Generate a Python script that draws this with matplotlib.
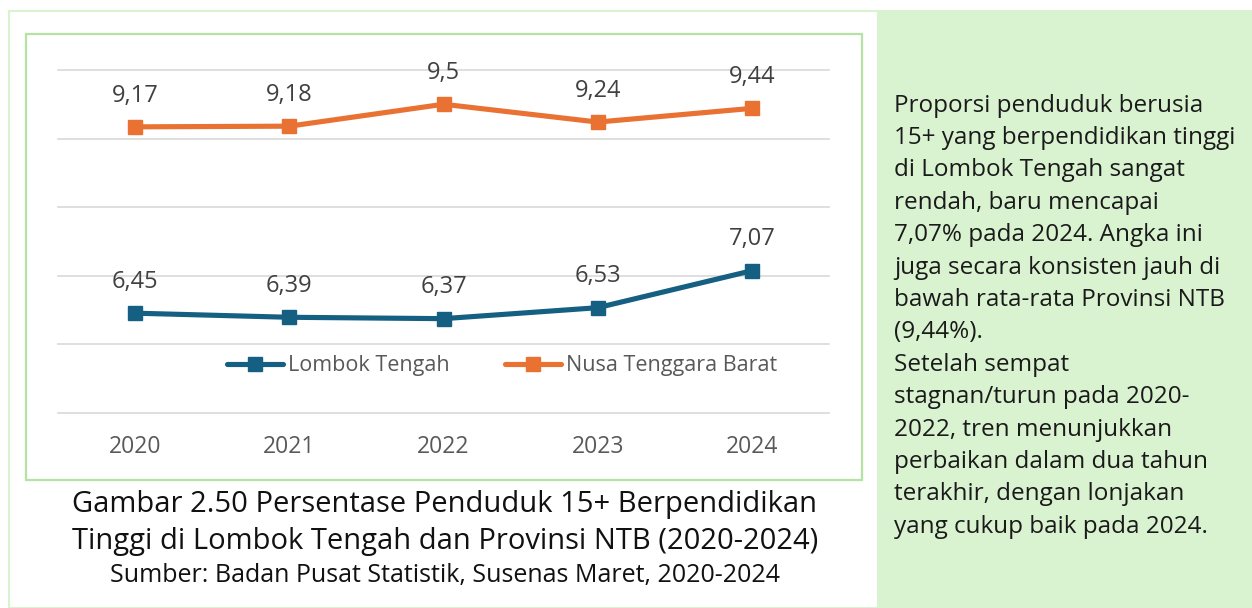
import matplotlib
matplotlib.use("Agg")
from matplotlib import pyplot as plt
from matplotlib.patches import Rectangle

plt.rcParams['font.family'] = ['Open Sans', 'DejaVu Sans']

# data
years = ["2020", "2021", "2022", "2023", "2024"]
lombok_tengah = [6.45, 6.39, 6.37, 6.53, 7.07]
ntb = [9.17, 9.18, 9.5, 9.24, 9.44]
series_names = ["Lombok Tengah", "Nusa Tenggara Barat"]

caption_lines = [
    "Gambar 2.50 Persentase Penduduk 15+ Berpendidikan",
    "Tinggi di Lombok Tengah dan Provinsi NTB (2020-2024)",
]
source_line = "Sumber: Badan Pusat Statistik, Susenas Maret, 2020-2024"

side_text = [
    "Proporsi penduduk berusia",
    "15+ yang berpendidikan tinggi",
    "di Lombok Tengah sangat",
    "rendah, baru mencapai",
    "7,07% pada 2024. Angka ini",
    "juga secara konsisten jauh di",
    "bawah rata-rata Provinsi NTB",
    "(9,44%).",
    "Setelah sempat",
    "stagnan/turun pada 2020-",
    "2022, tren menunjukkan",
    "perbaikan dalam dua tahun",
    "terakhir, dengan lonjakan",
    "yang cukup baik pada 2024.",
]

W, H = 1252, 608
BLUE = "#156082"
ORANGE = "#E97132"


def fx(x):
    return x / W


def fy(y):
    return 1 - y / H


fig = plt.figure(figsize=(W / 100, H / 100), dpi=100)
fig.patch.set_facecolor("white")

# page layout: left white cell, right green cell, chart box
fig.add_artist(Rectangle((fx(9), 0), fx(878) - fx(9), fy(10.5),
                         transform=fig.transFigure, facecolor="white",
                         edgecolor="#D9F2D0", linewidth=1.5, zorder=0))
fig.add_artist(Rectangle((fx(878), 0), 1 - fx(878), fy(10),
                         transform=fig.transFigure, facecolor="#D9F2D0",
                         edgecolor="none", zorder=0))
fig.add_artist(Rectangle((fx(26), fy(480)), fx(862) - fx(26), fy(34) - fy(480),
                         transform=fig.transFigure, facecolor="white",
                         edgecolor="#B5E3A3", linewidth=1.6, zorder=0))

ax = fig.add_axes([fx(58), fy(412.5), fx(829) - fx(58), fy(70) - fy(412.5)])
ax.set_facecolor("none")
x = range(len(years))

ax.plot(x, lombok_tengah, color=BLUE, lw=3.7, marker="s", ms=10,
        label=series_names[0], solid_capstyle="round")
ax.plot(x, ntb, color=ORANGE, lw=3.7, marker="s", ms=10,
        label=series_names[1], solid_capstyle="round")

for vals in (lombok_tengah, ntb):
    for i, v in enumerate(vals):
        ax.annotate(str(v).replace(".", ","), xy=(i, v), xytext=(0, 22.5),
                    textcoords="offset points", ha="center", va="center",
                    fontsize=17, color="#404040")

ax.set_xlim(-0.5, len(years) - 0.5)
ax.set_ylim(5, 10)
ax.set_yticks(range(5, 11))
ax.set_yticklabels([])
ax.set_xticks(list(x))
ax.set_xticklabels(years)
ax.tick_params(axis="both", length=0)
ax.tick_params(axis="x", pad=16, labelsize=16.5, labelcolor="#595959")
ax.grid(axis="y", color="#D9D9D9", lw=1.2)
for gl in ax.get_ygridlines():
    gl.set_clip_on(False)
ax.set_axisbelow(True)
for s in ax.spines.values():
    s.set_visible(False)

leg = ax.legend(loc="center", bbox_to_anchor=(0.576, 0.136), ncol=2,
                frameon=False, fontsize=15.5, numpoints=1, handlelength=2.6,
                handletextpad=0.2, columnspacing=2.6)
for t in leg.get_texts():
    t.set_color("#595959")

# caption
fig.text(fx(445), fy(512), caption_lines[0], ha="center", va="baseline",
         fontsize=21, color="#111111")
fig.text(fx(445), fy(549), caption_lines[1], ha="center", va="baseline",
         fontsize=21, color="#111111")
fig.text(fx(445), fy(582), source_line, ha="center", va="baseline",
         fontsize=18, color="#111111")

# side note
for i, line in enumerate(side_text):
    fig.text(fx(894), fy(111.7 + i * 32.4), line, ha="left", va="baseline",
             fontsize=17.5, color="#1A1A1A")

fig.savefig("out.png", dpi=100)
